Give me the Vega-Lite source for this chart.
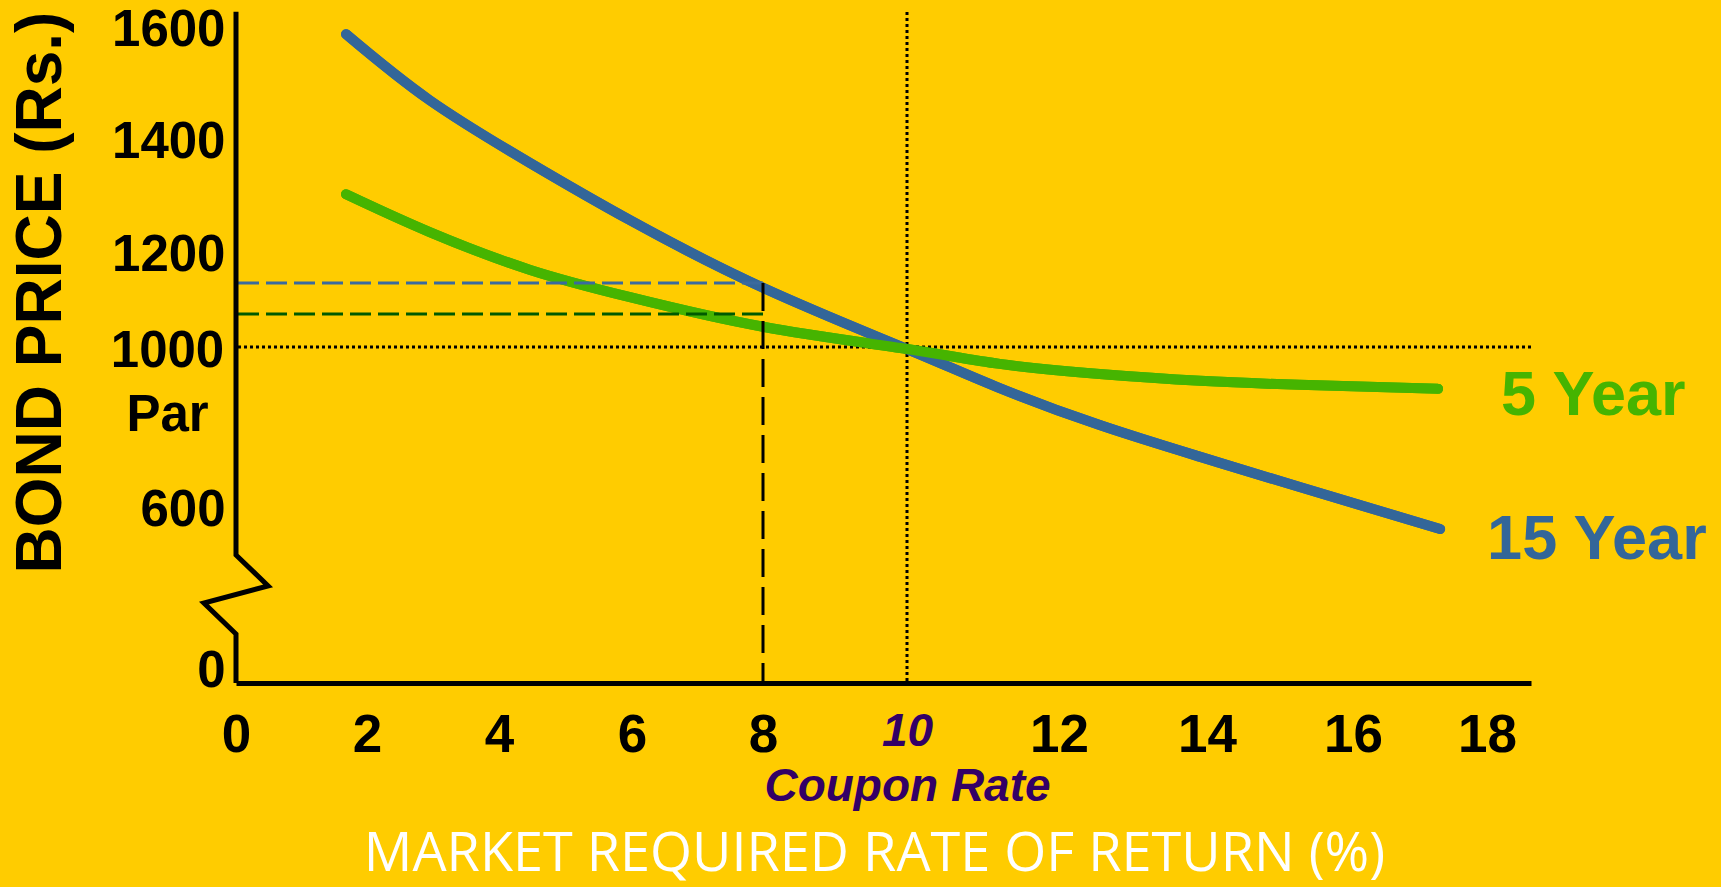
{
  "$schema": "https://vega.github.io/schema/vega-lite/v6.json",
  "width": 1295,
  "height": 671,
  "autosize": {"type": "none"},
  "padding": {"left": 236, "top": 12, "right": 190, "bottom": 204},
  "background": "#FFCC00",
  "config": {"view": {"stroke": null}, "font": "Liberation Sans"},
  "datasets": {
    "curves": [
      {"series": "15 Year", "rate": 1.68, "price": 1589},
      {"series": "15 Year", "rate": 2.95, "price": 1471},
      {"series": "15 Year", "rate": 4.47, "price": 1359},
      {"series": "15 Year", "rate": 5.97, "price": 1258},
      {"series": "15 Year", "rate": 8.0, "price": 1126},
      {"series": "15 Year", "rate": 10.0, "price": 995},
      {"series": "15 Year", "rate": 11.22, "price": 898},
      {"series": "15 Year", "rate": 12.55, "price": 806},
      {"series": "15 Year", "rate": 13.91, "price": 727},
      {"series": "15 Year", "rate": 15.27, "price": 652},
      {"series": "15 Year", "rate": 17.3, "price": 528},
      {"series": "5 Year", "rate": 1.68, "price": 1304},
      {"series": "5 Year", "rate": 2.95, "price": 1237},
      {"series": "5 Year", "rate": 4.47, "price": 1164},
      {"series": "5 Year", "rate": 5.97, "price": 1106},
      {"series": "5 Year", "rate": 8.0, "price": 1043},
      {"series": "5 Year", "rate": 10.0, "price": 995},
      {"series": "5 Year", "rate": 11.22, "price": 958},
      {"series": "5 Year", "rate": 12.55, "price": 933},
      {"series": "5 Year", "rate": 13.91, "price": 916},
      {"series": "5 Year", "rate": 15.27, "price": 906},
      {"series": "5 Year", "rate": 17.27, "price": 896}
    ],
    "price_at_8": [
      {"series": "15 Year", "rate": 8, "price": 1136},
      {"series": "5 Year", "rate": 8, "price": 1070}
    ],
    "axisbreak": [
      {"i": 0, "rate": 0, "price": 1629},
      {"i": 1, "rate": 0, "price": 439},
      {"i": 2, "rate": 0.49, "price": 333},
      {"i": 3, "rate": -0.49, "price": 274},
      {"i": 4, "rate": 0, "price": 168},
      {"i": 5, "rate": 0, "price": 0}
    ]
  },
  "layer": [
    {
      "data": {"name": "curves"},
      "mark": {"type": "line", "strokeWidth": 10, "strokeCap": "round", "interpolate": "natural"},
      "encoding": {
        "x": {
          "field": "rate", "type": "quantitative",
          "scale": {"type": "linear", "domain": [0, 2, 4, 6, 8, 10, 12, 14, 16, 18, 18.6], "range": [0, 131, 263, 396, 527, 671, 823, 971, 1117, 1251, 1295], "nice": false, "zero": false},
          "axis": {
            "values": [0, 2, 4, 6, 8, 10, 12, 14, 16, 18],
            "format": "d",
            "labelExpr": "datum.value == 10 ? ['10', 'Coupon Rate'] : datum.label",
            "domain": true, "domainColor": "#000000", "domainWidth": 5,
            "ticks": false, "tickSize": 0, "grid": false,
            "labelFont": "Liberation Sans",
            "labelFontSize": {"expr": "datum.value == 10 ? 46 : 53"},
            "labelFontWeight": "bold",
            "labelFontStyle": {"expr": "datum.value == 10 ? 'italic' : 'normal'"},
            "labelColor": {"expr": "datum.value == 10 ? '#330066' : '#000000'"},
            "labelPadding": 26,
            "labelLineHeight": 55,
            "labelLimit": 500,
            "labelFlush": false, "labelOverlap": false, "labelBound": false,
            "title": "MARKET REQUIRED RATE OF RETURN (%)",
            "titleFont": "Open Sans", "titleFontSize": 54, "titleFontWeight": "normal",
            "titleColor": "#FFFFFF",
            "titleX": 638, "titleY": 187, "titleAlign": "center", "titleBaseline": "alphabetic"
          }
        },
        "y": {
          "field": "price", "type": "quantitative",
          "scale": {"type": "linear", "domain": [0, 600, 1000, 1200, 1400, 1600], "range": [671, 496, 335, 241, 128, 16], "nice": false, "zero": false},
          "axis": {
            "values": [0, 600, 1000, 1200, 1400, 1600],
            "format": "d",
            "labelExpr": "datum.value == 1000 ? ['1000', 'Par'] : datum.label",
            "domain": false, "ticks": false, "tickSize": 0, "grid": false,
            "labelFont": "Liberation Sans", "labelFontSize": 51, "labelFontWeight": "bold", "labelColor": "#000000",
            "labelAlign": {"expr": "datum.value == 1000 ? 'center' : 'right'"},
            "labelPadding": {"expr": "datum.value == 1000 ? 69 : 11"},
            "labelBaseline": {"expr": "datum.value == 1000 ? 'top' : datum.value == 0 ? 'alphabetic' : 'middle'"},
            "labelOffset": {"expr": "datum.value == 1000 ? -21 : datum.value == 0 ? 3 : 2"},
            "labelLineHeight": 64,
            "labelLimit": 300,
            "labelOverlap": false, "labelFlush": false, "labelBound": false,
            "title": "BOND PRICE (Rs.)",
            "titleFont": "Liberation Sans", "titleFontSize": 64, "titleFontWeight": "bold", "titleColor": "#000000",
            "titleAngle": 270, "titleX": -176, "titleY": 280, "titleAlign": "center", "titleBaseline": "alphabetic"
          }
        },
        "color": {"field": "series", "type": "nominal", "scale": {"domain": ["5 Year", "15 Year"], "range": ["#46B400", "#336699"]}, "legend": null}
      }
    },
    {
      "data": {"values": [{"price": 1000}]},
      "mark": {"type": "rule", "strokeDash": [3, 3], "strokeWidth": 3, "color": "black"},
      "encoding": {
        "y": {"field": "price", "type": "quantitative"}
      }
    },
    {
      "data": {"values": [{"rate": 10}]},
      "mark": {"type": "rule", "strokeDash": [3, 3], "strokeWidth": 3, "color": "black"},
      "encoding": {
        "x": {"field": "rate", "type": "quantitative"}
      }
    },
    {
      "data": {"name": "curves"},
      "mark": {"type": "line", "strokeWidth": 10, "strokeCap": "round", "interpolate": "natural"},
      "encoding": {
        "x": {"field": "rate", "type": "quantitative"},
        "y": {"field": "price", "type": "quantitative"},
        "color": {"field": "series", "type": "nominal", "legend": null}
      }
    },
    {
      "data": {"name": "price_at_8"},
      "mark": {"type": "rule", "strokeDash": [21, 7], "strokeWidth": 3},
      "encoding": {
        "x": {"field": "rate", "type": "quantitative"},
        "x2": {"datum": 0},
        "y": {"field": "price", "type": "quantitative"},
        "stroke": {"field": "series", "type": "nominal", "scale": {"domain": ["5 Year", "15 Year"], "range": ["#005A00", "#3A6A9E"]}, "legend": null}
      }
    },
    {
      "data": {"name": "price_at_8"},
      "transform": [{"filter": "datum.series == '15 Year'"}],
      "mark": {"type": "rule", "strokeDash": [28, 10], "strokeWidth": 3, "color": "#000000"},
      "encoding": {
        "x": {"field": "rate", "type": "quantitative"},
        "y": {"field": "price", "type": "quantitative"},
        "y2": {"datum": 0}
      }
    },
    {
      "data": {"name": "axisbreak"},
      "mark": {"type": "line", "strokeWidth": 5, "color": "#000000", "strokeJoin": "miter"},
      "encoding": {
        "x": {"field": "rate", "type": "quantitative"},
        "y": {"field": "price", "type": "quantitative"},
        "order": {"field": "i", "type": "quantitative"}
      }
    },
    {
      "data": {"name": "curves"},
      "transform": [
        {"joinaggregate": [{"op": "max", "field": "rate", "as": "last_rate"}], "groupby": ["series"]},
        {"filter": "datum.rate == datum.last_rate && datum.series == '5 Year'"}
      ],
      "mark": {"type": "text", "align": "left", "baseline": "middle", "dx": 63, "dy": 7, "fontSize": 63, "fontWeight": "bold", "font": "Liberation Sans"},
      "encoding": {
        "x": {"field": "rate", "type": "quantitative"},
        "y": {"field": "price", "type": "quantitative"},
        "text": {"field": "series", "type": "nominal"},
        "color": {"field": "series", "type": "nominal", "legend": null}
      }
    },
    {
      "data": {"name": "curves"},
      "transform": [
        {"joinaggregate": [{"op": "max", "field": "rate", "as": "last_rate"}], "groupby": ["series"]},
        {"filter": "datum.rate == datum.last_rate && datum.series == '15 Year'"}
      ],
      "mark": {"type": "text", "align": "left", "baseline": "middle", "dx": 47, "dy": 11, "fontSize": 63, "fontWeight": "bold", "font": "Liberation Sans"},
      "encoding": {
        "x": {"field": "rate", "type": "quantitative"},
        "y": {"field": "price", "type": "quantitative"},
        "text": {"field": "series", "type": "nominal"},
        "color": {"field": "series", "type": "nominal", "legend": null}
      }
    }
  ]
}
